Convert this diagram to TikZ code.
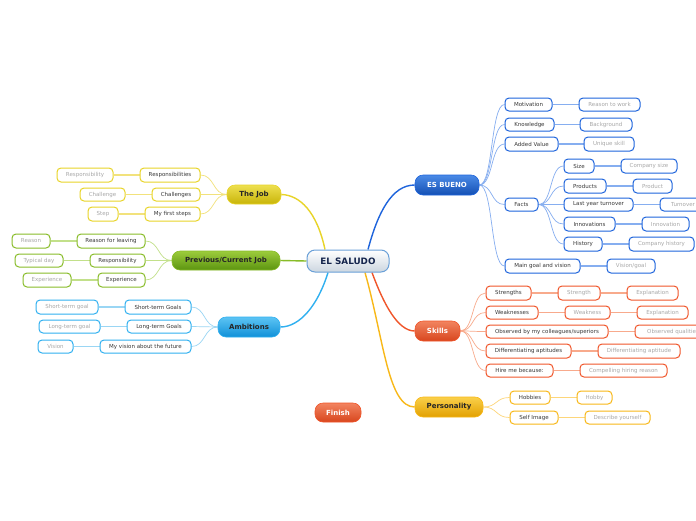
\documentclass[tikz,border=0pt]{standalone}
\usepackage{fontspec}
\setmainfont{DejaVu Sans}
\usetikzlibrary{backgrounds}
\definecolor{bluB}{HTML}{1E64DC}
\definecolor{bluT}{HTML}{4A8AE6}
\definecolor{bluD}{HTML}{1450B4}
\definecolor{bluL}{HTML}{86AEF0}
\definecolor{orgB}{HTML}{F0552A}
\definecolor{orgT}{HTML}{F28460}
\definecolor{orgD}{HTML}{D8461E}
\definecolor{orgL}{HTML}{F8AA8C}
\definecolor{yelB}{HTML}{F8B818}
\definecolor{yelT}{HTML}{FAD04A}
\definecolor{yelD}{HTML}{E2A000}
\definecolor{yelL}{HTML}{FDD67A}
\definecolor{jobB}{HTML}{E8D428}
\definecolor{jobT}{HTML}{EEE050}
\definecolor{jobD}{HTML}{C8B408}
\definecolor{jobL}{HTML}{F2E27C}
\definecolor{grnB}{HTML}{88BC28}
\definecolor{grnT}{HTML}{9CCC3C}
\definecolor{grnD}{HTML}{5C9410}
\definecolor{grnL}{HTML}{C2E08A}
\definecolor{ambB}{HTML}{30B0F0}
\definecolor{ambT}{HTML}{5CC4F4}
\definecolor{ambD}{HTML}{1090D8}
\definecolor{ambL}{HTML}{9AD6F4}
\definecolor{cenB}{HTML}{6AA0D8}
\definecolor{cenF}{HTML}{CCD6E0}
\definecolor{cenT}{HTML}{14244C}
\definecolor{chT}{HTML}{383838}
\definecolor{gcT}{HTML}{A8A8A8}
\tikzset{
  x=1pt, y=-1pt,
  every node/.style={inner sep=0pt, align=center},
  ctr/.style={draw=cenB, line width=1pt, rounded corners=8pt, top color=white, bottom color=cenF, text=cenT, font=\fontsize{8.8}{10}\selectfont\bfseries},
  mt/.style n args={3}{draw=#1, line width=0.6pt, rounded corners=8pt, top color=#2, bottom color=#3, text=black!85, font=\fontsize{7}{8}\selectfont\bfseries},
  ch/.style={draw=#1, line width=1pt, rounded corners=4pt, fill=white, text=chT, font=\fontsize{5.5}{6.5}\selectfont},
  gc/.style={draw=#1, line width=1pt, rounded corners=4pt, fill=white, text=gcT, font=\fontsize{5.5}{6.5}\selectfont},
  mln/.style={draw=#1, line width=1.4pt},
  sln/.style={draw=#1, line width=0.7pt},
  gln/.style={draw=#1, line width=1.3pt},
}
\newcommand\mk[7]{\node[#2, minimum width={(#4-#3)*1pt}, minimum height={(#6-#5)*1pt}] (#1) at ({(#3+#4)/2},{(#5+#6)/2}) {#7};}
\newcommand\rcon[3]{\draw[sln=#1] (#2.east) .. controls +(14,0) and +(-14,0) .. (#3.west);}
\newcommand\lcon[3]{\draw[sln=#1] (#2.west) .. controls +(-14,0) and +(14,0) .. (#3.east);}
\newcommand\rgc[3]{\draw[gln=#1] (#2.east) -- (#3.west);}
\newcommand\lgc[3]{\draw[gln=#1] (#2.west) -- (#3.east);}
\begin{document}
\begin{tikzpicture}
\useasboundingbox (0,0) rectangle (696,520);
% central
\mk{c}{ctr}{307}{389}{250}{272}{EL SALUDO}
% ES BUENO
\mk{b}{mt={bluB}{bluT}{bluD}, text=white}{415}{479}{175}{195}{ES BUENO}
\mk{b1}{ch=bluB}{505}{552}{98}{111}{Motivation}
\mk{b1g}{gc=bluB}{579}{640}{98}{111}{Reason to work}
\mk{b2}{ch=bluB}{505}{554}{118}{131}{Knowledge}
\mk{b2g}{gc=bluB}{580}{632}{118}{131}{Background}
\mk{b3}{ch=bluB}{505}{558}{137}{151}{Added Value}
\mk{b3g}{gc=bluB}{584}{634}{137}{151}{Unique skill}
\mk{b4}{ch=bluB}{505}{538}{198}{211}{Facts}
\mk{f1}{ch=bluB}{564}{594}{159}{173}{Size}
\mk{f1g}{gc=bluB}{621}{677}{159}{173}{Company size}
\mk{f2}{ch=bluB}{564}{606}{179}{193}{Products}
\mk{f2g}{gc=bluB}{633}{672}{179}{193}{Product}
\mk{f3}{ch=bluB}{564}{633}{198}{211}{Last year turnover}
\mk{f3g}{gc=bluB}{660}{706}{198}{211}{Turnover}
\mk{f4}{ch=bluB}{564}{615}{217}{231}{Innovations}
\mk{f4g}{gc=bluB}{642}{689}{217}{231}{Innovation}
\mk{f5}{ch=bluB}{564}{602}{237}{251}{History}
\mk{f5g}{gc=bluB}{629}{694}{237}{251}{Company history}
\mk{b5}{ch=bluB}{505}{580}{259}{273}{Main goal and vision}
\mk{b5g}{gc=bluB}{607}{655}{259}{273}{Vision/goal}
% Skills
\mk{s}{mt={orgB}{orgT}{orgD}, text=white}{415}{460}{321}{341}{Skills}
\mk{s1}{ch=orgB}{486}{531}{286}{300}{Strengths}
\mk{s1g}{gc=orgB}{558}{600}{286}{300}{Strength}
\mk{s1h}{gc=orgB}{627}{678}{286}{300}{Explanation}
\mk{s2}{ch=orgB}{486}{538}{306}{319}{Weaknesses}
\mk{s2g}{gc=orgB}{565}{610}{306}{319}{Weakness}
\mk{s2h}{gc=orgB}{637}{688}{306}{319}{Explanation}
\mk{s3}{ch=orgB}{486}{608}{325}{338}{Observed by my colleagues/superiors}
\mk{s3g}{gc=orgB}{635}{711}{325}{338}{Observed qualities}
\mk{s4}{ch=orgB}{486}{571}{344}{358}{Differentiating aptitudes}
\mk{s4g}{gc=orgB}{598}{680}{344}{358}{Differentiating aptitude}
\mk{s5}{ch=orgB}{486}{553}{364}{377}{Hire me because:}
\mk{s5g}{gc=orgB}{580}{667}{364}{377}{Compelling hiring reason}
% Personality
\mk{pe}{mt={yelB}{yelT}{yelD}}{415}{483}{397}{417}{Personality}
\mk{pe1}{ch=yelB}{510}{550}{391}{404}{Hobbies}
\mk{pe1g}{gc=yelB}{577}{612}{391}{404}{Hobby}
\mk{pe2}{ch=yelB}{510}{558}{411}{424}{Self Image}
\mk{pe2g}{gc=yelB}{585}{650}{411}{424}{Describe yourself}
% Finish
\mk{fin}{mt={orgB}{orgT}{orgD}, text=white}{315}{361}{403}{422}{Finish}
% The Job
\mk{j}{mt={jobB}{jobT}{jobD}}{227}{281}{185}{204}{The Job}
\mk{j1}{ch=jobB}{140}{200}{168}{182}{Responsibilities}
\mk{j1g}{gc=jobB}{57}{113}{168}{182}{Responsibility}
\mk{j2}{ch=jobB}{152}{200}{188}{201}{Challenges}
\mk{j2g}{gc=jobB}{80}{125}{188}{201}{Challenge}
\mk{j3}{ch=jobB}{145}{200}{207}{221}{My first steps}
\mk{j3g}{gc=jobB}{88}{118}{207}{221}{Step}
% Previous/Current Job
\mk{p}{mt={grnB}{grnT}{grnD}}{172}{280}{251}{270}{Previous/Current Job}
\mk{p1}{ch=grnB}{77}{145}{234}{248}{Reason for leaving}
\mk{p1g}{gc=grnB}{12}{50}{234}{248}{Reason}
\mk{p2}{ch=grnB}{90}{145}{254}{267}{Responsibility}
\mk{p2g}{gc=grnB}{15}{63}{254}{267}{Typical day}
\mk{p3}{ch=grnB}{98}{145}{273}{287}{Experience}
\mk{p3g}{gc=grnB}{23}{71}{273}{287}{Experience}
% Ambitions
\mk{a}{mt={ambB}{ambT}{ambD}}{218}{280}{317}{337}{Ambitions}
\mk{a1}{ch=ambB}{125}{191}{300}{314}{Short-term Goals}
\mk{a1g}{gc=ambB}{36}{98}{300}{314}{Short-term goal}
\mk{a2}{ch=ambB}{127}{191}{320}{333}{Long-term Goals}
\mk{a2g}{gc=ambB}{39}{100}{320}{333}{Long-term goal}
\mk{a3}{ch=ambB}{100}{191}{340}{353}{My vision about the future}
\mk{a3g}{gc=ambB}{38}{73}{340}{353}{Vision}
\begin{scope}[on background layer]
\fill[white] (0,0) rectangle (696,520);
\coordinate (cb) at ([xshift=20pt]c.north);
\coordinate (cj) at ([xshift=-23pt]c.north);
\coordinate (ca) at ([xshift=-20pt]c.south);
\coordinate (cs) at ([xshift=24pt]c.south);
\coordinate (cp) at ([xshift=17pt]c.south);
\draw[mln=bluB] (cb) .. controls (378,212) and (392,185) .. (b.west);
\draw[mln=jobB] (cj) .. controls (317,212) and (300,195) .. (j.east);
\draw[mln=grnB] (c.west) -- (p.east);
\draw[mln=ambB] (ca) .. controls (318,305) and (300,327) .. (a.east);
\draw[mln=orgB] (cs) .. controls (384,305) and (398,331) .. (s.west);
\draw[mln=yelB] (cp) .. controls (384,340) and (388,407) .. (pe.west);
% ES BUENO
\rcon{bluL}{b}{b1}\rcon{bluL}{b}{b2}\rcon{bluL}{b}{b3}\rcon{bluL}{b}{b4}\rcon{bluL}{b}{b5}
\rgc{bluL}{b1}{b1g}\rgc{bluL}{b2}{b2g}\rgc{bluL}{b3}{b3g}\rgc{bluL}{b5}{b5g}
\rcon{bluL}{b4}{f1}\rcon{bluL}{b4}{f2}\rcon{bluL}{b4}{f3}\rcon{bluL}{b4}{f4}\rcon{bluL}{b4}{f5}
\rgc{bluL}{f1}{f1g}\rgc{bluL}{f2}{f2g}\rgc{bluL}{f3}{f3g}\rgc{bluL}{f4}{f4g}\rgc{bluL}{f5}{f5g}
% Skills
\rcon{orgL}{s}{s1}\rcon{orgL}{s}{s2}\rcon{orgL}{s}{s3}\rcon{orgL}{s}{s4}\rcon{orgL}{s}{s5}
\rgc{orgL}{s1}{s1g}\rgc{orgL}{s1g}{s1h}\rgc{orgL}{s2}{s2g}\rgc{orgL}{s2g}{s2h}
\rgc{orgL}{s3}{s3g}\rgc{orgL}{s4}{s4g}\rgc{orgL}{s5}{s5g}
% Personality
\rcon{yelL}{pe}{pe1}\rcon{yelL}{pe}{pe2}
\rgc{yelL}{pe1}{pe1g}\rgc{yelL}{pe2}{pe2g}
% The Job
\lcon{jobL}{j}{j1}\lcon{jobL}{j}{j2}\lcon{jobL}{j}{j3}
\lgc{jobL}{j1}{j1g}\lgc{jobL}{j2}{j2g}\lgc{jobL}{j3}{j3g}
% Previous
\lcon{grnL}{p}{p1}\lcon{grnL}{p}{p2}\lcon{grnL}{p}{p3}
\lgc{grnL}{p1}{p1g}\lgc{grnL}{p2}{p2g}\lgc{grnL}{p3}{p3g}
% Ambitions
\lcon{ambL}{a}{a1}\lcon{ambL}{a}{a2}\lcon{ambL}{a}{a3}
\lgc{ambL}{a1}{a1g}\lgc{ambL}{a2}{a2g}\lgc{ambL}{a3}{a3g}
\end{scope}
\end{tikzpicture}
\end{document}
